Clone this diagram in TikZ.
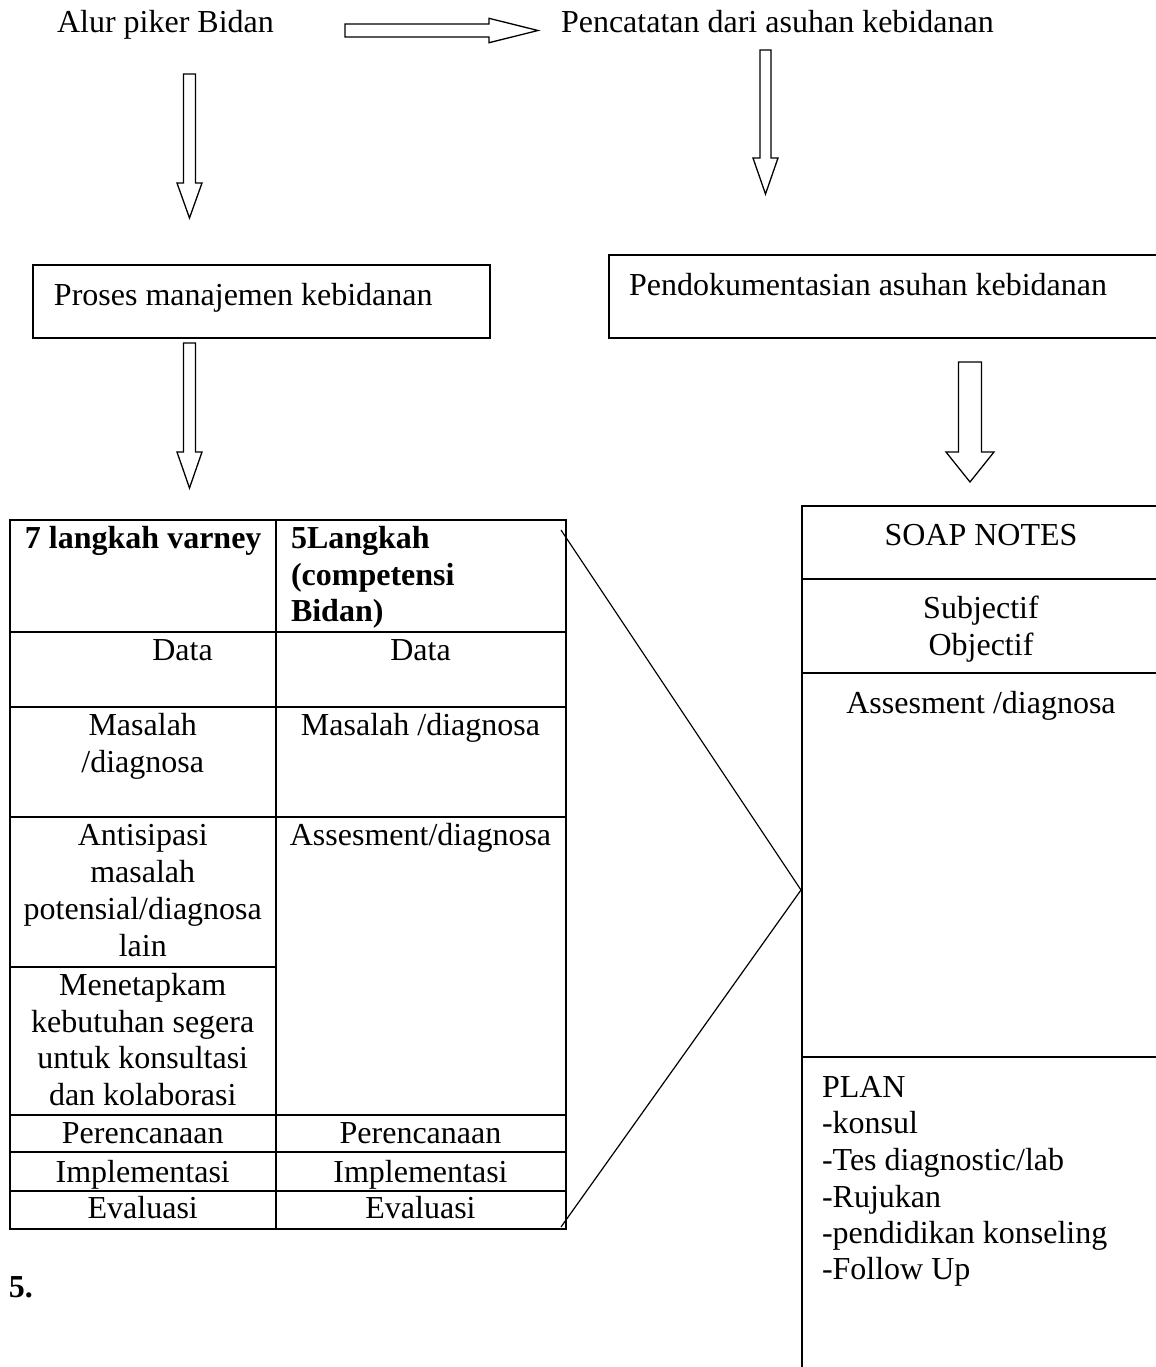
\documentclass[tikz,border=0pt]{standalone}
\usepackage{fontspec}
\setmainfont{Liberation Serif}
\newcommand\mainfs{\fontsize{16pt}{18.25pt}\selectfont}
\newcommand\blkdown[7]{% name, x, ytop, yhead, ytip, shafthalf, headhalf
  \coordinate (#1s) at (#2,#3);
  \coordinate (#1e) at (#2,#5);
  \draw[blk] ($(#1s)+(-#6,0)$) -- ($(#1s)+(#6,0)$) -- (#2+#6,#4) -- (#2+#7,#4) -- (#1e) -- (#2-#7,#4) -- (#2-#6,#4) -- cycle;}
\usetikzlibrary{calc}
\begin{document}
\begin{tikzpicture}[x=0.5pt,y=-0.5pt,
  txt/.style={inner sep=0pt,outer sep=0pt,font=\mainfs},
  blk/.style={draw,line width=0.65pt,fill=white,line join=miter},
  boxline/.style={line width=0.8pt},
  tabline/.style={line width=1pt},
  diag/.style={line width=0.6pt}]
\useasboundingbox (0,0) rectangle (1156,1367);
\clip (0,0) rectangle (1156,1367);

% ---------- top texts ----------
\node[txt,anchor=base west] (alur) at (57,32) {Alur piker Bidan};
\node[txt,anchor=base west] (pencat) at (561,32) {Pencatatan dari asuhan kebidanan};

% right block arrow
\coordinate (ra1) at (345,30.5);
\coordinate (ra2) at (538,30.5);
\draw[blk] (345,24) -- (489,24) -- (489,18.3) -- (ra2) -- (489,42.7) -- (489,37) -- (345,37) -- cycle;

% down arrows
\blkdown{da}{189.5}{74}{183}{218}{6}{12.5}
\blkdown{db}{765.5}{50}{158}{194}{5.5}{12.5}

% ---------- boxes ----------
\draw[boxline] (33,265) rectangle (490,338);
\node[txt,anchor=base west] (proses) at (54,305) {Proses manajemen kebidanan};
\draw[boxline] (609,255) rectangle (1162,338);
\node[txt,anchor=base west] (pendok) at (629,295) {Pendokumentasian asuhan kebidanan};

\blkdown{dc}{189.5}{343}{452}{488}{6}{12.5}
\blkdown{dd}{970}{362}{452}{482}{11.5}{24}

% ---------- table ----------
\draw[tabline] (10,520) rectangle (565.6,1229);
\draw[tabline] (275.5,520) -- (275.5,1229);
\foreach \yy in {632,707,817,1115,1152,1191}
  \draw[tabline] (10,\yy) -- (565.6,\yy);
\draw[tabline] (10,967) -- (275.5,967);

\node[txt,anchor=base west,font=\mainfs\bfseries] (h1) at (25,548) {7 langkah varney};
\node[txt,anchor=base west,font=\mainfs\bfseries] (h2a) at (291,548) {5Langkah};
\node[txt,anchor=base west,font=\mainfs\bfseries] (h2b) at (291,585) {(competensi};
\node[txt,anchor=base west,font=\mainfs\bfseries] (h2c) at (291,621) {Bidan)};

\node[txt,anchor=base] (d1) at (182.5,660) {Data};
\node[txt,anchor=base] (d2) at (420.5,660) {Data};

\node[txt,anchor=base] (m1a) at (142.75,735) {Masalah};
\node[txt,anchor=base] (m1b) at (142.75,772) {/diagnosa};
\node[txt,anchor=base] (m2) at (420.5,735) {Masalah /diagnosa};

\node[txt,anchor=base] (a1a) at (142.75,845) {Antisipasi};
\node[txt,anchor=base] (a1b) at (142.75,882) {masalah};
\node[txt,anchor=base] (a1c) at (142.75,919) {potensial/diagnosa};
\node[txt,anchor=base] (a1d) at (142.75,956) {lain};
\node[txt,anchor=base] (a2) at (420.5,845) {Assesment/diagnosa};

\node[txt,anchor=base] (k1a) at (142.75,995) {Menetapkam};
\node[txt,anchor=base] (k1b) at (142.75,1032) {kebutuhan segera};
\node[txt,anchor=base] (k1c) at (142.75,1068) {untuk konsultasi};
\node[txt,anchor=base] (k1d) at (142.75,1105) {dan kolaborasi};

\node[txt,anchor=base] (p1) at (142.75,1143) {Perencanaan};
\node[txt,anchor=base] (p2) at (420.5,1143) {Perencanaan};
\node[txt,anchor=base] (i1) at (142.75,1182) {Implementasi};
\node[txt,anchor=base] (i2) at (420.5,1182) {Implementasi};
\node[txt,anchor=base] (e1) at (142.75,1218) {Evaluasi};
\node[txt,anchor=base] (e2) at (420.5,1218) {Evaluasi};

\node[txt,anchor=base west,font=\mainfs\bfseries] (five) at (9,1297) {5.};

% ---------- diagonal connector ----------
\coordinate (tr) at (561,530);
\coordinate (apex) at (801,890);
\coordinate (br) at (561,1227);
\draw[diag] (tr) -- (apex) -- (br);

% ---------- SOAP box ----------
\draw[boxline] (802,506) rectangle (1162,1380);
\draw[boxline] (802,579) -- (1162,579);
\draw[boxline] (802,673) -- (1162,673);
\draw[line width=1.3pt] (802,1057) -- (1162,1057);
\draw[line width=1pt] (802,1057) -- (802,1380);

\node[txt,anchor=base] (soap) at (981,545) {SOAP NOTES};
\node[txt,anchor=base] (subj) at (981,618) {Subjectif};
\node[txt,anchor=base] (obj) at (981,655) {Objectif};
\node[txt,anchor=base] (ass) at (981,713) {Assesment /diagnosa};

\node[txt,anchor=base west] (plan) at (822,1097) {PLAN};
\node[txt,anchor=base west] (pl1) at (822,1133) {-konsul};
\node[txt,anchor=base west] (pl2) at (822,1170) {-Tes diagnostic/lab};
\node[txt,anchor=base west] (pl3) at (822,1207) {-Rujukan};
\node[txt,anchor=base west] (pl4) at (822,1243) {-pendidikan konseling};
\node[txt,anchor=base west] (pl5) at (822,1279) {-Follow Up};
\end{tikzpicture}
\end{document}
